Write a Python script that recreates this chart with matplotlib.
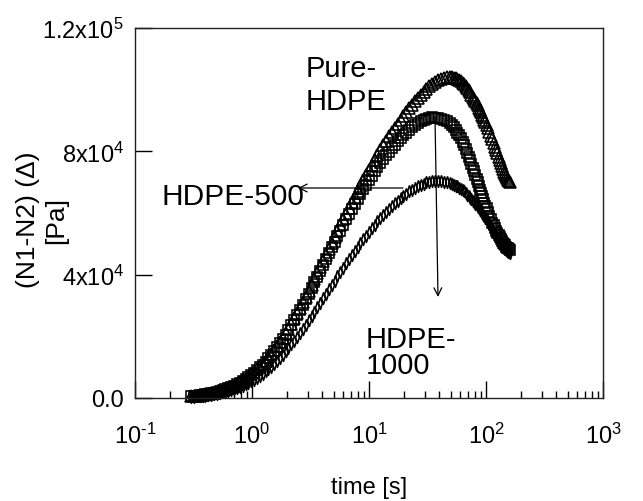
import matplotlib
matplotlib.use("Agg")
import matplotlib.pyplot as plt
from matplotlib.patches import FancyArrowPatch
from matplotlib.ticker import LogLocator, NullFormatter

plt.rcParams['font.family'] = ['Liberation Sans', 'DejaVu Sans']
plt.rcParams['mathtext.fontset'] = 'custom'
plt.rcParams['mathtext.rm'] = 'Liberation Sans'
plt.rcParams['mathtext.it'] = 'Liberation Sans:italic'
plt.rcParams['mathtext.bf'] = 'Liberation Sans:bold'

# ---- data: time [s] and (N1-N2) in kPa ----
time_s = [0.30, 0.32, 0.34, 0.36, 0.38, 0.40, 0.42, 0.445, 0.47, 0.50, 0.53,
          0.56, 0.59, 0.625, 0.66, 0.70, 0.74, 0.785, 0.83, 0.88, 0.93, 0.985,
          1.04, 1.10, 1.17, 1.24, 1.31, 1.38, 1.46, 1.55, 1.64, 1.73, 1.83,
          1.94, 2.05, 2.17, 2.30, 2.43, 2.57, 2.72, 2.88, 3.05, 3.23, 3.41,
          3.61, 3.82, 4.05, 4.28, 4.53, 4.80, 5.08, 5.37, 5.68, 6.02, 6.37,
          6.74, 7.13, 7.54, 7.98, 8.45, 8.94, 9.46, 10.0, 10.6, 11.2, 11.8,
          12.5, 13.2, 14.0, 14.8, 15.7, 16.6, 17.6, 18.6, 19.7, 20.9, 22.1,
          23.4, 24.7, 26.2, 27.7, 29.3, 31.0, 32.8, 34.7, 36.7, 38.9, 41.1,
          43.5, 46.1, 48.8,
          51, 53, 55, 57, 59, 61, 63, 65, 67, 69, 71, 73, 75, 77, 79, 81, 83,
          85, 87, 89, 91, 93, 95, 97, 99, 101, 104, 107, 110, 113, 116, 119,
          122, 125, 128, 131, 134, 137, 140, 143, 146, 149, 152, 155, 158, 161]

pure_hdpe_k = [0.5, 0.6, 0.7, 0.85, 1.0, 1.15, 1.3, 1.5, 1.7, 1.95, 2.2,
               2.5, 2.8, 3.2, 3.6, 4.05, 4.5, 5.05, 5.6, 6.25, 6.9, 7.65,
               8.4, 9.25, 10.1, 11.1, 12.1, 13.2, 14.3, 15.55, 16.8, 18.15, 19.5,
               21.0, 22.5, 24.15, 25.8, 27.5, 29.2, 31.0, 32.8, 34.7, 36.6, 38.5,
               40.4, 42.35, 44.3, 46.25, 48.2, 50.15, 52.1, 54.05, 56.0, 57.9, 59.8,
               61.65, 63.5, 65.3, 67.1, 68.85, 70.6, 72.3, 74.0, 75.65, 77.3, 78.85,
               80.4, 81.9, 83.4, 84.85, 86.3, 87.65, 89.0, 90.3, 91.6, 92.8, 94.0,
               95.15, 96.3, 97.35, 98.4, 99.35, 100.3, 101.1, 101.9, 102.5, 103.1, 103.5,
               103.9, 104.0, 104.1,
               104.0, 103.9, 103.7, 103.5, 103.2, 102.8, 102.3, 101.8, 101.2, 100.5,
               99.8, 99.1, 98.4, 97.7, 97.0, 96.3, 95.6, 94.9, 94.2, 93.5, 92.7,
               91.9, 91.1, 90.3, 89.5, 88.7, 87.5, 86.3, 85.1, 83.9, 82.7, 81.5,
               80.4, 79.3, 78.2, 77.1, 76.1, 75.1, 74.2, 73.4, 72.6, 71.9, 71.3,
               70.8, 70.4, 70.0]

hdpe_500_k = [0.5, 0.6, 0.7, 0.85, 1.0, 1.15, 1.3, 1.5, 1.7, 1.95, 2.2,
              2.5, 2.8, 3.15, 3.5, 3.95, 4.4, 4.95, 5.5, 6.15, 6.8, 7.5,
              8.2, 9.05, 9.9, 10.85, 11.8, 12.9, 14.0, 15.2, 16.4, 17.75, 19.1,
              20.55, 22.0, 23.6, 25.2, 26.85, 28.5, 30.25, 32.0, 33.85, 35.7, 37.55,
              39.4, 41.3, 43.2, 45.1, 47.0, 48.85, 50.7, 52.5, 54.3, 56.1, 57.9,
              59.6, 61.3, 62.95, 64.6, 66.15, 67.7, 69.2, 70.7, 72.1, 73.5, 74.85,
              76.2, 77.45, 78.7, 79.85, 81.0, 82.1, 83.2, 84.2, 85.2, 86.1, 87.0,
              87.75, 88.5, 89.1, 89.7, 90.15, 90.6, 90.8, 91.0, 90.95, 90.9, 90.6,
              90.3, 89.75, 89.2,
              88.5, 87.8, 87.0, 86.1, 85.2, 84.2, 83.1, 81.9, 80.7, 79.5,
              78.3, 77.1, 75.9, 74.7, 73.5, 72.3, 71.1, 69.9, 68.7, 67.6, 66.5,
              65.4, 64.4, 63.4, 62.4, 61.5, 60.2, 59.0, 57.9, 56.9, 56.0, 55.1,
              54.3, 53.5, 52.8, 52.1, 51.5, 50.9, 50.4, 49.9, 49.5, 49.1, 48.8,
              48.5, 48.2, 48.0]

hdpe_1000_k = [0.3, 0.4, 0.5, 0.6, 0.7, 0.8, 0.9, 1.05, 1.2, 1.4, 1.6,
               1.8, 2.0, 2.3, 2.6, 2.9, 3.2, 3.6, 4.0, 4.45, 4.9, 5.45,
               6.0, 6.6, 7.2, 7.9, 8.6, 9.4, 10.2, 11.1, 12.0, 13.0, 14.0,
               15.1, 16.2, 17.4, 18.6, 19.85, 21.1, 22.45, 23.8, 25.2, 26.6, 28.0,
               29.4, 30.85, 32.3, 33.75, 35.2, 36.65, 38.1, 39.5, 40.9, 42.3, 43.7,
               45.05, 46.4, 47.7, 49.0, 50.25, 51.5, 52.7, 53.9, 55.05, 56.2, 57.3,
               58.4, 59.4, 60.4, 61.35, 62.3, 63.15, 64.0, 64.8, 65.6, 66.3, 67.0,
               67.6, 68.2, 68.7, 69.2, 69.55, 69.9, 70.1, 70.3, 70.35, 70.4, 70.3,
               70.2, 69.95, 69.7,
               69.5, 69.2, 68.9, 68.6, 68.2, 67.8, 67.4, 67.0, 66.5, 66.0,
               65.5, 65.0, 64.5, 64.0, 63.5, 63.0, 62.5, 62.0, 61.5, 61.0, 60.5,
               60.0, 59.5, 59.0, 58.5, 58.0, 57.2, 56.4, 55.6, 54.8, 54.0, 53.3,
               52.6, 51.9, 51.2, 50.6, 50.0, 49.5, 49.0, 48.6, 48.2, 47.9, 47.6,
               47.4, 47.2, 47.0]

y_ticks = [0, 40000, 80000, 120000]
y_tick_labels = ['0.0', r'$\mathregular{4x10^4}\enspace\,$',
                 r'$\mathregular{8x10^4}\enspace\,$',
                 r'$\mathregular{1.2x10^5}\enspace\,$']
x_ticks = [0.1, 1, 10, 100, 1000]
x_tick_labels = [r'$\mathregular{10^{\text{-}1}}$', r'$\mathregular{10^0}$',
                 r'$\mathregular{10^1}$', r'$\mathregular{10^2}$',
                 r'$\mathregular{10^3}$']

W, H = 643, 502
fig = plt.figure(figsize=(W / 100, H / 100), dpi=100)
ax = fig.add_axes([135 / W, 1 - 399 / H, (603 - 135) / W, (399 - 29) / H])

def to_pa(vals):
    return [v * 1000 for v in vals]

thin_bar = [(0, 1), (0.32, 0), (0, -1), (-0.32, 0), (0, 1)]
mk = dict(linestyle='none', markerfacecolor='none', markeredgecolor='black',
          markeredgewidth=1.15, color='black', clip_on=False)
ax.plot(time_s, to_pa(hdpe_1000_k), marker=thin_bar, markersize=8.5, **mk)
ax.plot(time_s, to_pa(hdpe_500_k), marker='s', markersize=7.5, **mk)
ax.plot(time_s, to_pa(pure_hdpe_k), marker='^', markersize=8, **mk)

ax.set_xscale('log')
ax.set_xlim(0.1, 1000)
ax.set_ylim(0, 120000)

ax.set_xticks(x_ticks)
ax.set_xticklabels(x_tick_labels)
ax.xaxis.set_minor_locator(LogLocator(base=10, subs=range(2, 10)))
ax.xaxis.set_minor_formatter(NullFormatter())
ax.set_yticks(y_ticks)
ax.set_yticklabels(y_tick_labels)

ax.tick_params(axis='x', which='major', direction='in', length=12, width=1,
               labelsize=17, pad=18, top=False)
ax.tick_params(axis='x', which='minor', direction='in', length=5, width=1,
               top=False)
ax.tick_params(axis='y', which='major', direction='in', length=12, width=1,
               labelsize=17, pad=8, right=False)
for s in ax.spines.values():
    s.set_linewidth(1.0)
    s.set_color('#222222')

def fx(px):
    return px / W

def fy(py):
    return 1 - py / H

fig.text(fx(369), fy(488), 'time [s]', ha='center', va='center', fontsize=17)
fig.text(fx(42), fy(220), '(N1-N2) (\u0394)\n[Pa]', rotation=90, ha='center',
         va='center', fontsize=19, multialignment='center', linespacing=1.2)

fig.text(fx(306), fy(77), 'Pure-', ha='left', va='baseline', fontsize=21)
fig.text(fx(306), fy(110), 'HDPE', ha='left', va='baseline', fontsize=21)
fig.text(fx(162), fy(205), 'HDPE-500', ha='left', va='baseline', fontsize=21.5)
fig.text(fx(366), fy(348), 'HDPE-', ha='left', va='baseline', fontsize=21)
fig.text(fx(366), fy(374), '1000', ha='left', va='baseline', fontsize=21)

arrow = dict(arrowstyle='->', color='black', lw=0.9, mutation_scale=14,
             shrinkA=0, shrinkB=0)
fig.add_artist(FancyArrowPatch((fx(403), fy(189)), (fx(298), fy(189)),
                               transform=fig.transFigure, **arrow))
fig.add_artist(FancyArrowPatch((fx(435), fy(118)), (fx(438), fy(298)),
                               transform=fig.transFigure, **arrow))

fig.savefig('out.png', dpi=100)
